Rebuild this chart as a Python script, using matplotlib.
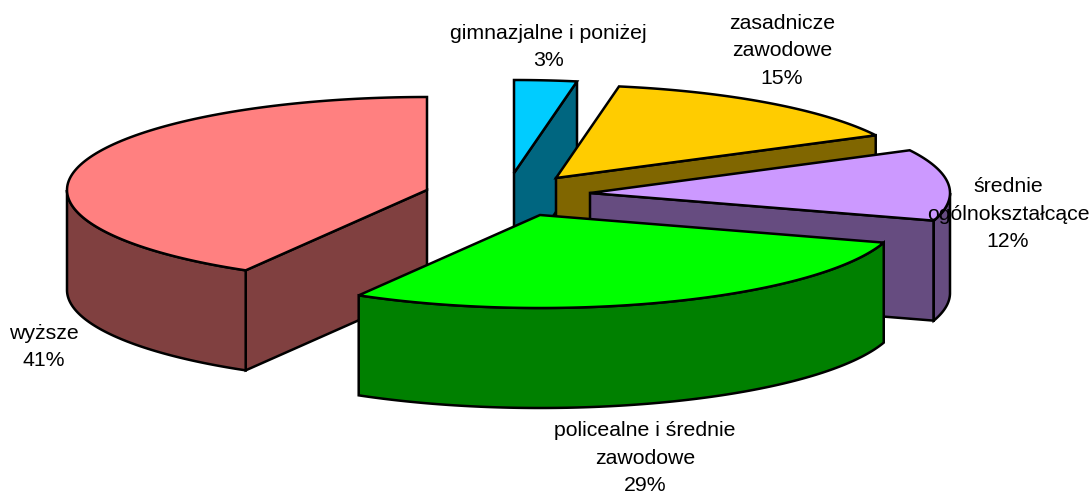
import numpy as np
from matplotlib import pyplot as plt
from matplotlib.patches import Polygon

plt.rcParams['font.family'] = ['Liberation Sans', 'DejaVu Sans']

labels = ["gimnazjalne i poniżej", "zasadnicze\nzawodowe", "średnie\nogólnokształcące",
          "policealne i średnie\nzawodowe", "wyższe"]
printed_pct = [3, 15, 12, 29, 41]
shares = [2.8, 14.6, 12.4, 28.6, 41.6]
top_colors = ["#00CCFF", "#FFCC00", "#CC99FF", "#00FF00", "#FF8080"]
side_colors = ["#006680", "#806600", "#664C80", "#008000", "#804040"]

# pixel layout of the fake 3d pie (exploded centres, radii, depth)
centers = [(514, 173), (556, 178), (590, 193), (540, 215), (427, 190)]
label_pos = [(548, 47), (782, 51), (1008, 214), (645, 458), (44, 347)]
rx, ry, depth = 360, 93, 100

W, H = 1092, 493
fig = plt.figure(figsize=(W / 100, H / 100), dpi=100)
ax = fig.add_axes([0, 0, 1, 1])
ax.set_xlim(0, W)
ax.set_ylim(H, 0)
ax.axis("off")


def rim(c, a, b):
    t = np.radians(np.linspace(a, b, 120))
    return np.column_stack([c[0] + rx * np.sin(t), c[1] - ry * np.cos(t)])


def face(pts, color, z):
    ax.add_patch(Polygon(pts, closed=True, facecolor=color, edgecolor="black",
                         linewidth=1.8, joinstyle="miter", zorder=z))


ends = np.cumsum(shares) / np.sum(shares) * 360
starts = np.concatenate([[0], ends[:-1]])
down = np.array([0, depth])

# wyższe goes first, the front slices paint over it
order = [4, 0, 1, 2, 3]
for n, i in enumerate(order):
    c, a, b = centers[i], starts[i], ends[i]
    z = n * 3 + 1
    apex = np.array(c, dtype=float)
    # cut faces
    if np.sin(np.radians(a)) < 0:
        p = rim(c, a, a)[0]
        face([apex, p, p + down, apex + down], side_colors[i], z)
    if np.sin(np.radians(b)) > 0:
        p = rim(c, b, b)[0]
        face([apex, p, p + down, apex + down], side_colors[i], z)
    # outer wall, only the front half of the rim
    lo, hi = max(a, 90), min(b, 270)
    if lo < hi:
        r = rim(c, lo, hi)
        face(np.vstack([r, (r + down)[::-1]]), side_colors[i], z + 1)
    # top
    face(np.vstack([apex, rim(c, a, b)]), top_colors[i], z + 2)

for lab, s, pos in zip(labels, printed_pct, label_pos):
    ax.text(pos[0], pos[1], f"{lab}\n{s}%", ha="center", va="center",
            fontsize=15.3, linespacing=1.55, color="black", zorder=50)

fig.savefig("out.png", dpi=100)
